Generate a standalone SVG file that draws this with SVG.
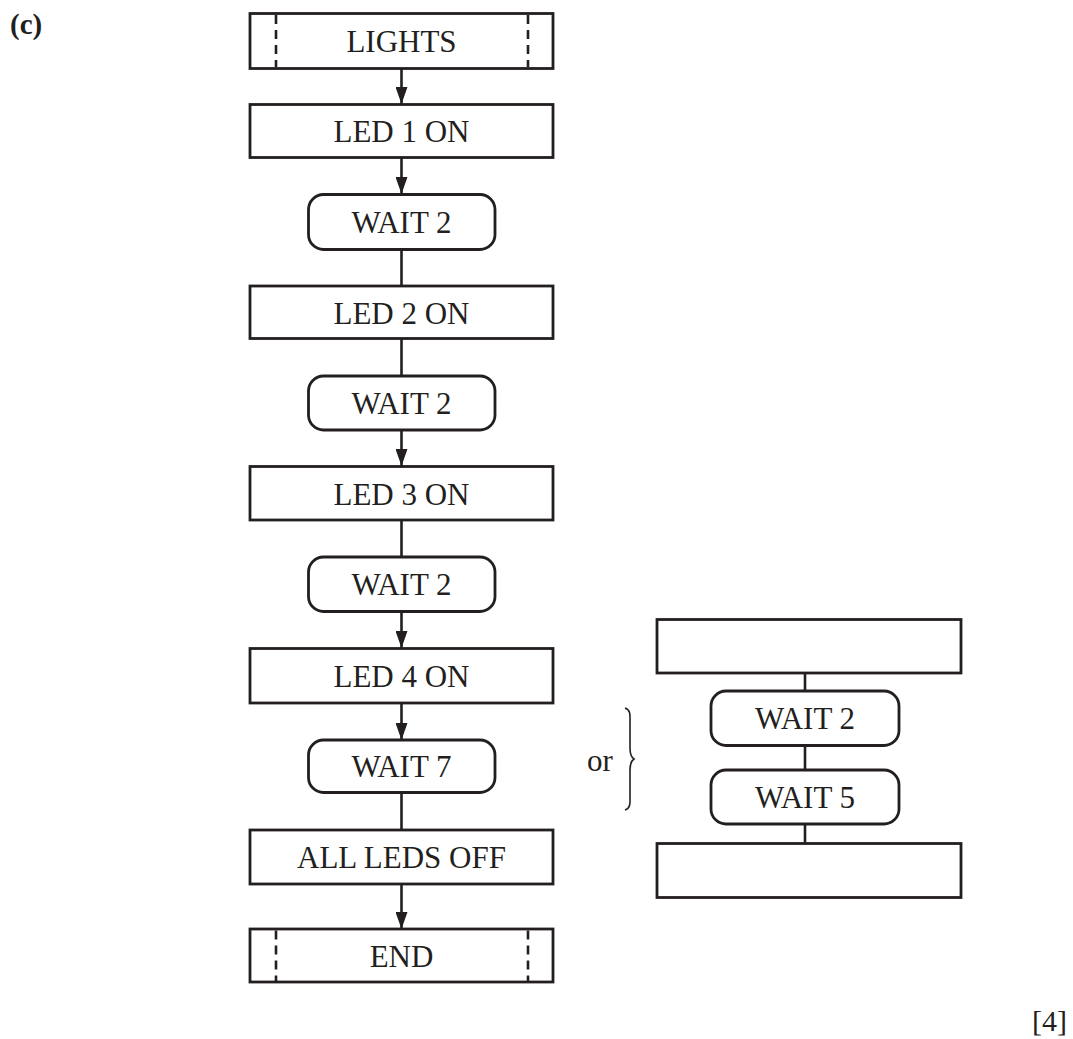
<svg xmlns="http://www.w3.org/2000/svg" width="1073" height="1039" viewBox="0 0 1073 1039">
<style>
.box{fill:#fff;stroke:#231f20;stroke-width:2.8}
.dash{stroke:#231f20;stroke-width:2.6;stroke-dasharray:9 6;fill:none}
.t{font-family:"Liberation Serif","Times New Roman",serif;font-size:31px;fill:#231f20;text-anchor:middle}
.c{stroke:#231f20;stroke-width:2.6;fill:none}
</style>
<defs>
<marker id="ah2" markerWidth="17" markerHeight="12" refX="17" refY="6" orient="auto" markerUnits="userSpaceOnUse" viewBox="0 0 17 12">
<path d="M0,0 L17,6 L0,12 Z" fill="#231f20"/>
</marker>
</defs>
<text x="10" y="34" font-family="Liberation Serif, Times New Roman, serif" font-size="29" font-weight="bold" fill="#231f20">(c)</text>

<g id="connectors">
<line class="c" x1="401.5" y1="68" x2="401.5" y2="104" marker-end="url(#ah2)"/>
<line class="c" x1="401.5" y1="157" x2="401.5" y2="194" marker-end="url(#ah2)"/>
<line class="c" x1="401.5" y1="249" x2="401.5" y2="286"/>
<line class="c" x1="401.5" y1="338" x2="401.5" y2="376"/>
<line class="c" x1="401.5" y1="430" x2="401.5" y2="466" marker-end="url(#ah2)"/>
<line class="c" x1="401.5" y1="520" x2="401.5" y2="557"/>
<line class="c" x1="401.5" y1="611" x2="401.5" y2="648" marker-end="url(#ah2)"/>
<line class="c" x1="401.5" y1="703" x2="401.5" y2="740" marker-end="url(#ah2)"/>
<line class="c" x1="401.5" y1="792" x2="401.5" y2="830"/>
<line class="c" x1="401.5" y1="884" x2="401.5" y2="929" marker-end="url(#ah2)"/>
<line class="c" x1="805" y1="673" x2="805" y2="691"/>
<line class="c" x1="805" y1="745" x2="805" y2="770"/>
<line class="c" x1="805" y1="824" x2="805" y2="843"/>
</g>

<g id="n-lights">
<rect class="box" x="250" y="13.5" width="303" height="55"/>
<line class="dash" x1="276" y1="15" x2="276" y2="67"/>
<line class="dash" x1="528" y1="15" x2="528" y2="67"/>
<text class="t" x="401.5" y="52">LIGHTS</text>
</g>
<g id="n-led1">
<rect class="box" x="250" y="104.5" width="303" height="53"/>
<text class="t" x="401.5" y="142">LED 1 ON</text>
</g>
<g id="n-wait2a">
<rect class="box" x="308.5" y="194.5" width="186.5" height="55" rx="15"/>
<text class="t" x="401.5" y="233">WAIT 2</text>
</g>
<g id="n-led2">
<rect class="box" x="250" y="286" width="303" height="52.5"/>
<text class="t" x="401.5" y="323.5">LED 2 ON</text>
</g>
<g id="n-wait2b">
<rect class="box" x="308.5" y="376" width="186.5" height="54" rx="15"/>
<text class="t" x="401.5" y="414">WAIT 2</text>
</g>
<g id="n-led3">
<rect class="box" x="250" y="466.5" width="303" height="53.5"/>
<text class="t" x="401.5" y="504.5">LED 3 ON</text>
</g>
<g id="n-wait2c">
<rect class="box" x="308.5" y="557" width="186.5" height="54.5" rx="15"/>
<text class="t" x="401.5" y="595">WAIT 2</text>
</g>
<g id="n-led4">
<rect class="box" x="250" y="648.5" width="303" height="54.5"/>
<text class="t" x="401.5" y="687">LED 4 ON</text>
</g>
<g id="n-wait7">
<rect class="box" x="308.5" y="740" width="186.5" height="52.5" rx="15"/>
<text class="t" x="401.5" y="777">WAIT 7</text>
</g>
<g id="n-alloff">
<rect class="box" x="250" y="830" width="303" height="54"/>
<text class="t" x="401.5" y="868">ALL LEDS OFF</text>
</g>
<g id="n-end">
<rect class="box" x="250" y="929" width="303" height="53"/>
<line class="dash" x1="276" y1="930.5" x2="276" y2="981"/>
<line class="dash" x1="528" y1="930.5" x2="528" y2="981"/>
<text class="t" x="401.5" y="966.5">END</text>
</g>

<g id="alt">
<text class="t" x="600" y="771">or</text>
<path d="M625,708 C631,710 630,716 630,722 L630,748 C630,754 631,757 634,759 C631,761 630,764 630,770 L630,796 C630,802 631,808 625,810" fill="none" stroke="#231f20" stroke-width="1.6"/>
<g id="n-alt-top"><rect class="box" x="657" y="619.5" width="304" height="53.5"/></g>
<g id="n-alt-wait2">
<rect class="box" x="711" y="691" width="188" height="54.5" rx="15"/>
<text class="t" x="805" y="729">WAIT 2</text>
</g>
<g id="n-alt-wait5">
<rect class="box" x="711" y="770" width="188" height="54" rx="15"/>
<text class="t" x="805" y="808">WAIT 5</text>
</g>
<g id="n-alt-bottom"><rect class="box" x="657" y="843.5" width="304" height="54"/></g>
</g>

<text x="1067" y="1031" font-family="Liberation Serif, Times New Roman, serif" font-size="30" fill="#231f20" text-anchor="end">[4]</text>
</svg>
